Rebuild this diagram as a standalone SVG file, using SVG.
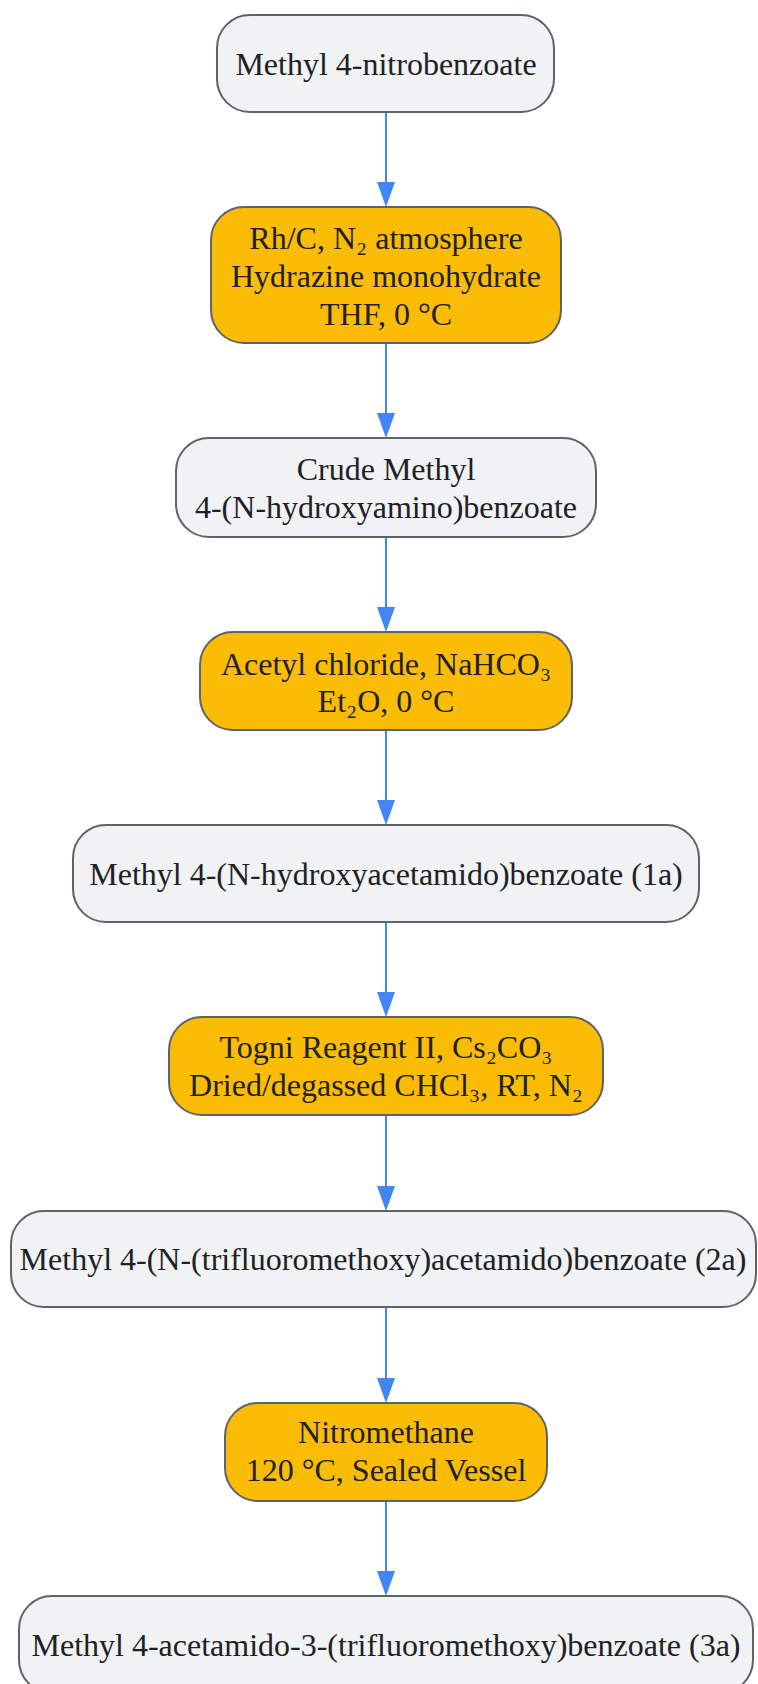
<svg xmlns="http://www.w3.org/2000/svg" width="758" height="1684" viewBox="0 0 758 1684">
<defs>
<style>
.prod{fill:#f1f2f4;stroke:#5f6368;stroke-width:2}
.cond{fill:#fbbc05;stroke:#5f6368;stroke-width:2}
text{font-family:"Liberation Serif","Times New Roman",serif;font-size:32px;fill:#202124;text-anchor:middle}
.edge{stroke:#4285f4;stroke-width:2;fill:none}
.head{fill:#4285f4}
</style>
</defs>
<rect width="758" height="1684" fill="#ffffff"/>
<g id="connectors">
<line class="edge" x1="386" y1="112" x2="386" y2="185"/><path class="head" d="M377,182 L395,182 L386,207 Z"/>
<line class="edge" x1="386" y1="343" x2="386" y2="416"/><path class="head" d="M377,413 L395,413 L386,438 Z"/>
<line class="edge" x1="386" y1="537" x2="386" y2="610"/><path class="head" d="M377,607 L395,607 L386,632 Z"/>
<line class="edge" x1="386" y1="730" x2="386" y2="803"/><path class="head" d="M377,800 L395,800 L386,825 Z"/>
<line class="edge" x1="386" y1="922" x2="386" y2="995"/><path class="head" d="M377,992 L395,992 L386,1017 Z"/>
<line class="edge" x1="386" y1="1115" x2="386" y2="1189"/><path class="head" d="M377,1186 L395,1186 L386,1211 Z"/>
<line class="edge" x1="386" y1="1307" x2="386" y2="1381"/><path class="head" d="M377,1378 L395,1378 L386,1403 Z"/>
<line class="edge" x1="386" y1="1501" x2="386" y2="1574"/><path class="head" d="M377,1571 L395,1571 L386,1596 Z"/>
</g>
<g id="n1"><rect class="prod" x="217" y="15" width="337" height="97" rx="33"/><text x="386" y="75">Methyl 4-nitrobenzoate</text></g>
<g id="n2"><rect class="cond" x="211" y="207" width="350" height="136" rx="33"/><text x="386" y="249">Rh/C, N₂ atmosphere</text><text x="386" y="287">Hydrazine monohydrate</text><text x="386" y="325">THF, 0 °C</text></g>
<g id="n3"><rect class="prod" x="176" y="438" width="420" height="99" rx="33"/><text x="386" y="480">Crude Methyl</text><text x="386" y="518">4-(N-hydroxyamino)benzoate</text></g>
<g id="n4"><rect class="cond" x="200" y="632" width="372" height="98" rx="33"/><text x="386" y="675">Acetyl chloride, NaHCO₃</text><text x="386" y="712">Et₂O, 0 °C</text></g>
<g id="n5"><rect class="prod" x="73" y="825" width="626" height="97" rx="33"/><text x="386" y="885">Methyl 4-(N-hydroxyacetamido)benzoate (1a)</text></g>
<g id="n6"><rect class="cond" x="169" y="1017" width="434" height="98" rx="33"/><text x="386" y="1058">Togni Reagent II, Cs₂CO₃</text><text x="386" y="1096">Dried/degassed CHCl₃, RT, N₂</text></g>
<g id="n7"><rect class="prod" x="11" y="1211" width="745" height="96" rx="33"/><text x="383" y="1270">Methyl 4-(N-(trifluoromethoxy)acetamido)benzoate (2a)</text></g>
<g id="n8"><rect class="cond" x="225" y="1403" width="322" height="98" rx="33"/><text x="386" y="1443">Nitromethane</text><text x="386" y="1481">120 °C, Sealed Vessel</text></g>
<g id="n9"><rect class="prod" x="19" y="1596" width="734" height="97" rx="33"/><text x="386" y="1656">Methyl 4-acetamido-3-(trifluoromethoxy)benzoate (3a)</text></g>
</svg>
